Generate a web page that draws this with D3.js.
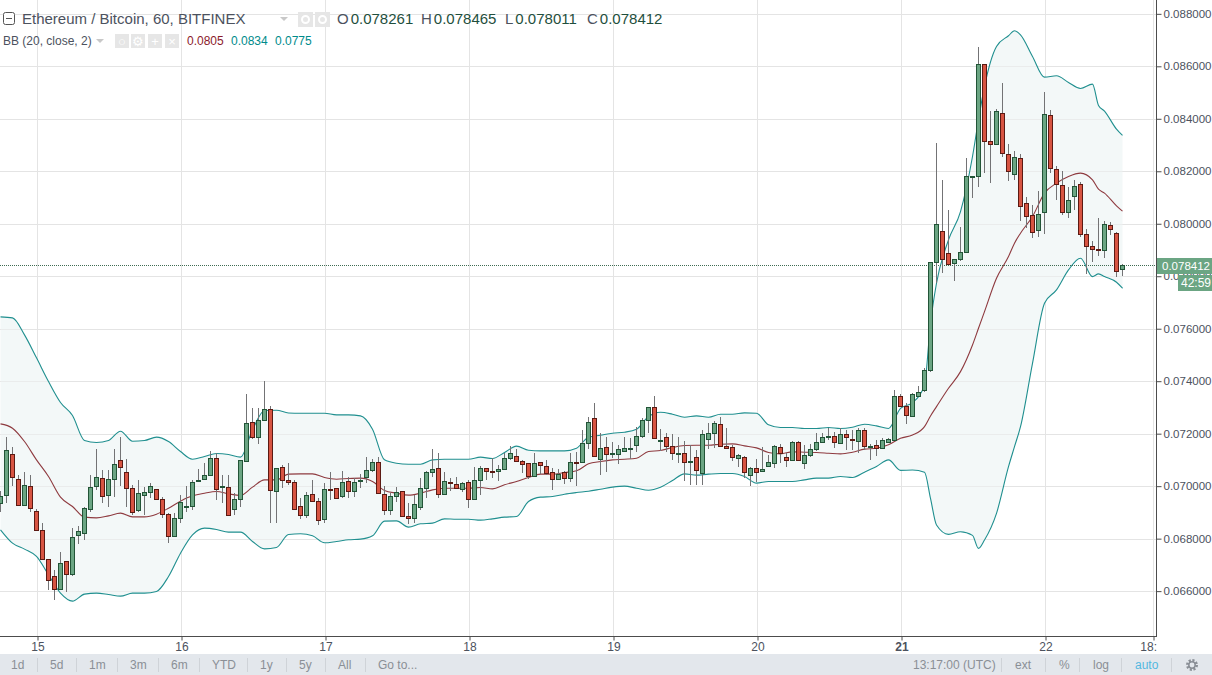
<!DOCTYPE html>
<html>
<head>
<meta charset="utf-8">
<script src="https://cdn.jsdelivr.net/npm/d3@7"></script>
<style>
  html, body { margin: 0; padding: 0; background: #fff; overflow: hidden; }
  svg { display: block; font-family: "Liberation Sans", Arial, sans-serif; }
</style>
</head>
<body>
<svg width="1212" height="675"></svg>
<script>
// prices are in millionths of a BTC, one entry per hourly bar
const opens = [
  69352,69657,71219,70266,69276,70000,69047,68323,67218,66571,
  66075,67142,66634,68133,68209,69123,70000,70305,69657,70266,
  70990,70533,69923,69085,69682,69771,69885,69504,68933,68082,
  68780,69225,69238,70190,70266,70419,71066,69962,69962,69123,
  69504,70952,72438,71867,72514,72933,69809,70724,70228,70152,
  69238,68895,69695,69428,68742,69898,69923,69619,70190,69809,
  70190,70343,70609,70914,69695,69085,69619,69809,68857,68780,
  69200,69923,70533,70685,69695,70152,70076,69898,70152,69504,
  70228,70685,70571,70571,70647,71066,71143,70952,70876,70381,
  70914,70762,70533,70266,70533,70305,70927,70914,71638,72590,
  71028,71486,71219,71219,71333,71447,71562,71905,72514,73010,
  71714,71867,71524,71257,71257,70914,71105,70495,71790,72019,
  72362,71524,71486,71066,71105,70419,70685,70571,70762,70876,
  71486,71105,70990,71676,70876,71181,71409,71676,71867,71905,
  71638,71981,71790,71714,72133,71511,71562,71447,71701,71752,
  73429,73048,72687,73450,73653,74416,78534,79716,78877,78521,
  78649,78915,81801,81813,86084,83148,83021,84215,82652,81915,
  82500,80784,80326,79754,80441,84139,82080,81470,80441,81051,
  81508,79602,79144,79030,78992,79945,79640,78261];
const highs = [
  69797,71867,71498,70431,70533,70431,69123,68590,67218,66799,
  67485,67142,68400,68488,69225,70431,71422,70622,70622,71422,
  71892,71028,70050,70241,69987,70139,69885,69606,68971,68971,
  69670,70012,70216,70660,70876,71333,71257,70419,70419,69758,
  71003,73518,72971,72971,74026,73060,70685,70800,70876,70241,
  69555,69784,70241,69555,70114,70546,69923,70584,70355,70305,
  70457,71117,71041,71105,70012,69758,69962,69822,69352,69670,
  70317,70584,71422,71270,70546,70317,70355,70152,70241,70724,
  70774,70685,71066,70812,71282,71536,71422,71003,70876,71270,
  70914,71003,70685,70647,70571,71270,71308,72133,72629,73162,
  72019,71867,71689,71575,71867,71854,72260,72590,73010,73441,
  72184,72019,71981,71867,71727,71562,71371,72146,72425,72502,
  72629,72210,71575,71232,71155,70724,71028,71511,71193,71575,
  71600,71257,71740,71740,71562,71600,72019,72019,72235,72082,
  72210,72146,72146,72210,72235,71613,71765,71829,71829,73670,
  73505,73162,73551,73818,74492,78533,83084,81674,80530,78649,
  79881,82500,81826,86745,86084,84279,84368,85359,83033,82779,
  82652,81025,80720,81254,85029,84343,82195,82004,81394,81674,
  81585,79805,79348,80212,80123,80072,79691,78465];
const lows = [
  69034,69377,70012,69250,69250,69034,68323,67218,66050,65644,
  66050,65948,66558,67815,67955,69034,69835,69377,69225,69606,
  70012,69225,68908,69034,68920,69530,69479,68780,67853,68057,
  68615,69009,69098,70165,70241,70406,69454,69365,68895,68908,
  69187,70939,71790,71613,72514,68615,68615,69949,70038,69098,
  68742,68780,69403,68501,68590,69479,69504,69530,69568,69606,
  69936,70139,70558,69695,68920,68908,69415,68819,68565,68615,
  69073,69542,70355,69555,69670,69809,69885,69796,69149,69492,
  69670,70216,70305,70178,70622,71003,70914,70520,70266,70343,
  70457,70431,69860,70241,70101,70152,70025,70901,71409,71105,
  70431,70558,71079,70851,71320,71041,71308,71829,72044,71790,
  71346,71295,71003,70876,70178,70038,70038,70038,71409,71447,
  71511,71435,70940,70749,70305,70025,70165,70571,70724,70685,
  70876,70736,70977,70965,70673,71105,71346,71676,71765,71447,
  71613,71384,71384,71257,71384,71003,71155,71435,71701,71727,
  73010,72362,72649,73386,73602,74340,77733,78140,78483,77835,
  78598,78915,80975,81419,81953,81546,83021,82563,81648,81686,
  80123,79856,79475,79513,79602,81953,80911,80326,80237,80530,
  79487,78077,78560,78788,78699,79564,77988,78011];
const closes = [
  69631,71371,70368,69276,70038,69161,68323,67218,66418,66075,
  67066,66634,68057,68285,69161,69962,70343,69644,70266,70838,
  70724,69923,69009,69733,69771,70000,69504,68933,68095,68780,
  69390,69238,70152,70228,70419,71066,69885,70000,68920,69504,
  70990,72400,71867,72514,72933,69847,70685,70228,70152,69123,
  68895,69657,69428,68704,69885,69873,69542,70152,69809,70165,
  70228,70609,70914,69733,69085,69619,69771,68857,68780,69314,
  69923,70533,70647,69695,70190,70114,69923,70114,69504,70228,
  70685,70571,70533,70647,71066,71257,70952,70838,70381,70876,
  70800,70495,70266,70457,70305,70914,70901,71638,72438,71143,
  71447,71219,71257,71409,71447,71460,71905,72514,73010,71829,
  71752,71524,71257,71270,70914,70952,70609,71981,72019,72400,
  71524,71473,71105,71181,70533,70685,70533,70647,70914,71524,
  71257,70990,71676,70990,71181,71409,71676,71867,71905,71676,
  71981,71867,71765,72133,71524,71524,71447,71752,71790,73429,
  73048,72705,73501,73577,74416,78533,79996,78649,78483,78649,
  78915,81813,81826,86084,83148,83021,84292,82690,82004,82538,
  80669,80288,79678,80364,84177,82118,81508,80441,80898,81432,
  79602,79144,79030,78992,79983,79792,78191,78412];

// bollinger bands, read at these bars only
const bbBars = [
  0,2,4,6,8,10,12,14,16,18,
  20,22,24,26,28,30,32,34,36,38,
  40,42,44,46,48,50,52,54,56,58,
  60,62,64,66,68,70,72,74,76,78,
  80,82,84,86,88,90,92,94,96,98,
  100,102,104,106,108,110,112,114,116,118,
  120,122,124,126,128,130,132,134,136,138,
  140,142,144,146,148,150,152,154,155,156,
  158,160,162,163,164,166,168,169,170,172,
  174,176,178,180,182,183,184,186,187];
const bbUpper = [
  76451,76413,75765,74889,73987,73187,72692,71740,71663,71740,
  72095,71714,71740,71867,71700,71320,71028,71130,71244,71206,
  71105,72146,72883,72895,72790,72781,72781,72781,72717,72717,
  72679,72171,71003,70876,70838,70838,71003,71028,71028,71028,
  71105,71054,71282,71524,71371,71346,71346,71346,71447,71867,
  71943,72019,72057,72171,72654,72819,72743,72629,72679,72629,
  72743,72743,72794,72781,72336,72235,72235,72197,72197,72235,
  72197,72248,72362,72298,72197,72967,73183,73856,76208,77733,
  79386,80466,82563,83961,85232,86758,87164,87355,87202,86376,
  85588,85639,85385,85156,85321,84508,84292,83605,83364];
const bbMiddle = [
  72375,72209,71701,71003,70368,69581,69225,68819,68793,68869,
  68971,68831,68831,68933,69161,69428,69631,69733,69797,69708,
  69644,69962,70241,70241,70457,70470,70470,70330,70266,70292,
  70305,70178,69835,69733,69657,69733,69860,69923,69923,69923,
  69949,69898,70051,70178,70330,70457,70457,70520,70584,70851,
  70940,71003,71028,71066,71321,71359,71473,71549,71562,71562,
  71600,71613,71536,71460,71282,71232,71308,71295,71282,71257,
  71232,71295,71410,71447,71575,71823,71950,72268,72674,73030,
  73729,74365,75382,76017,76653,77924,78750,79259,79640,80276,
  81165,81547,81801,81928,81673,81318,81165,80682,80479];
const bbLower = [
  68336,67828,67600,67320,66621,65923,65618,65885,65923,65872,
  65809,65923,65923,65987,66558,67447,68145,68400,68349,68247,
  68247,67891,67612,67663,68158,68184,68107,67841,67891,67955,
  67980,68107,68666,68679,68438,68565,68590,68755,68742,68742,
  68704,68755,68819,68844,69415,69581,69606,69695,69758,69809,
  69885,69962,70000,69923,69847,69962,70216,70470,70419,70457,
  70482,70482,70368,70114,70178,70178,70178,70241,70305,70305,
  70368,70330,70533,70749,71003,70603,70615,70526,69535,68518,
  68162,68264,68124,67628,67946,68963,70742,71505,72268,74683,
  76970,77479,78241,78686,77987,78089,77987,77771,77542];

const priceTicks = [66000,68000,70000,72000,74000,76000,78000,80000,82000,84000,86000,88000];
const dayBars = [6,30,54,78,102,126,150,174,192];
const dayLabels = ["15","16","17","18","19","20","21","22","18:00"];
const lastPrice = 78412;
const lastPriceLabel = "0.078412";
const countdown = "42:59";

const legendOhlc = [["O","0.078261"],["H","0.078465"],["L","0.078011"],["C","0.078412"]];
const legendBb = ["0.0805","0.0834","0.0775"];
const rangeLabels = ["1d","5d","1m","3m","6m","YTD","1y","5y","All","Go to..."];
const optionLabels = ["ext","%","log","auto"];

const paneW = 1156, paneH = 636;
const upColor = "#6ba583", upBorder = "#225437";
const downColor = "#d75442", downBorder = "#5b1a13";
const wickColor = "#737375";
const gridColor = "#e4e4e4", axisColor = "#4c4c4c", textColor = "#4c525e";

const svg = d3.select("svg");
const x = d3.scaleLinear().domain([0, 192]).range([0.5, 1152.5]);
const y = d3.scaleLinear().domain([88527, 64290]).range([0, paneH]);

svg.append("defs").append("clipPath").attr("id", "pane")
    .append("rect").attr("width", paneW).attr("height", paneH);

const pane = svg.append("g").attr("clip-path", "url(#pane)");

// grid
const grid = pane.append("g").attr("shape-rendering", "crispEdges").attr("stroke", gridColor);
grid.selectAll(".h").data(priceTicks).enter().append("line")
    .attr("x1", 0).attr("x2", paneW)
    .attr("y1", d => Math.round(y(d)) + 0.5).attr("y2", d => Math.round(y(d)) + 0.5);
grid.selectAll(".v").data(dayBars).enter().append("line")
    .attr("x1", d => x(d) + 1).attr("x2", d => x(d) + 1)
    .attr("y1", 0).attr("y2", paneH);

// bands
const bbPoints = bbBars.map((b, i) => ({ bar: b, upper: bbUpper[i], middle: bbMiddle[i], lower: bbLower[i] }));
pane.append("path").datum(bbPoints)
    .attr("fill", "#f3f8f8")
    .attr("d", d3.area().curve(d3.curveMonotoneX).x(d => x(d.bar)).y0(d => y(d.lower)).y1(d => y(d.upper)));
// grid shows faintly through the band fill
pane.append("g").attr("shape-rendering", "crispEdges").attr("stroke", gridColor).attr("stroke-opacity", 0.6)
    .selectAll("line").data(priceTicks).enter().append("line")
    .attr("x1", 0).attr("x2", paneW)
    .attr("y1", d => Math.round(y(d)) + 0.5).attr("y2", d => Math.round(y(d)) + 0.5);
const bandLine = key => d3.line().curve(d3.curveMonotoneX).x(d => x(d.bar)).y(d => y(d[key]));
[["upper", "#1f8f8f"], ["lower", "#1f8f8f"], ["middle", "#8e3a3f"]].forEach(([key, color]) => {
    pane.append("path").datum(bbPoints)
        .attr("fill", "none").attr("stroke", color).attr("stroke-width", 1.1)
        .attr("d", bandLine(key));
});

// last price line
pane.append("line")
    .attr("x1", 0).attr("x2", paneW)
    .attr("y1", Math.round(y(lastPrice)) + 0.5).attr("y2", Math.round(y(lastPrice)) + 0.5)
    .attr("stroke", "#3f6b52").attr("stroke-dasharray", "1,1")
    .attr("shape-rendering", "crispEdges");

// candles
const bars = d3.range(opens.length);
const candles = pane.append("g").attr("shape-rendering", "crispEdges");
candles.selectAll("line").data(bars).enter().append("line")
    .attr("x1", d => x(d)).attr("x2", d => x(d))
    .attr("y1", d => y(highs[d])).attr("y2", d => y(lows[d]))
    .attr("stroke", wickColor);
candles.selectAll("rect").data(bars).enter().append("rect")
    .attr("x", d => x(d) - 2).attr("width", 4)
    .attr("y", d => Math.round(y(Math.max(opens[d], closes[d]))) + 0.5)
    .attr("height", d => Math.max(1, Math.round(y(Math.min(opens[d], closes[d]))) - Math.round(y(Math.max(opens[d], closes[d])))))
    .attr("fill", d => closes[d] >= opens[d] ? upColor : downColor)
    .attr("stroke", d => closes[d] >= opens[d] ? upBorder : downBorder);

// price axis
const yAxis = svg.append("g")
    .attr("transform", `translate(${paneW + 0.5},0)`)
    .call(d3.axisRight(y).tickValues(priceTicks).tickSize(5).tickPadding(2).tickSizeOuter(0)
        .tickFormat(d => (d / 1e6).toFixed(6)));
yAxis.select(".domain").attr("stroke", axisColor).attr("d", `M0,0V${paneH + 1}`);
yAxis.selectAll("line").attr("stroke", axisColor);
yAxis.selectAll("text").attr("fill", textColor).style("font-size", "11.5px");

// time axis
const xAxis = svg.append("g")
    .attr("transform", `translate(1,${paneH + 0.5})`)
    .call(d3.axisBottom(x).tickValues(dayBars).tickSize(4).tickPadding(2).tickSizeOuter(0)
        .tickFormat((d, i) => dayLabels[i]));
xAxis.select(".domain").attr("stroke", axisColor).attr("d", `M-1,0H${paneW}`);
xAxis.selectAll("line").attr("stroke", axisColor);
xAxis.selectAll("text").attr("fill", textColor).style("font-size", "12px")
    .attr("font-weight", (d, i) => dayLabels[i] === "21" ? "bold" : null);
// the last time label runs into the price axis and is cut off there
xAxis.selectAll(".tick").filter((d, i) => i === dayBars.length - 1).select("text")
    .text("18:").attr("text-anchor", "end").attr("dx", 3);

// last price tag and countdown
svg.append("rect").attr("x", 1157).attr("y", 258).attr("width", 55).attr("height", 16).attr("fill", upColor);
svg.append("text").attr("x", 1162).attr("y", 270).attr("fill", "#fff").style("font-size", "11.5px").text(lastPriceLabel);
svg.append("rect").attr("x", 1178).attr("y", 275).attr("width", 34).attr("height", 16).attr("fill", upColor);
svg.append("text").attr("x", 1181).attr("y", 287).attr("fill", "#fff").style("font-size", "12px").text(countdown);

// bottom toolbar
svg.append("rect").attr("y", 654).attr("width", 1212).attr("height", 21).attr("fill", "#e3e7ec");
const rangeX = [11,50,89,130,171,212,260,299,338,378];
const rangeSep = [37,76,117,158,199,247,286,325,365];
svg.selectAll(".range").data(rangeLabels).enter().append("text")
    .attr("x", (d, i) => rangeX[i]).attr("y", 669)
    .attr("fill", "#8a8f96").style("font-size", "12px").text(d => d);
const optionX = [1015,1059,1093,1135];
svg.selectAll(".opt").data(optionLabels).enter().append("text")
    .attr("x", (d, i) => optionX[i]).attr("y", 669)
    .attr("fill", d => d === "auto" ? "#53b8e0" : "#8a8f96").style("font-size", "12px").text(d => d);
svg.append("text").attr("x", 913).attr("y", 669).attr("fill", "#8a8f96").style("font-size", "12px").text("13:17:00 (UTC)");
svg.selectAll(".sep").data(rangeSep.concat([1001,1045,1079,1121,1171])).enter().append("line")
    .attr("x1", d => d + 0.5).attr("x2", d => d + 0.5).attr("y1", 658).attr("y2", 672)
    .attr("stroke", "#cfd3d8");
svg.append("circle").attr("cx", 1192).attr("cy", 665).attr("r", 4.5)
    .attr("fill", "none").attr("stroke", "#8a8f96").attr("stroke-width", 3).attr("stroke-dasharray", "2,1.5");
svg.append("circle").attr("cx", 1192).attr("cy", 665).attr("r", 3.2)
    .attr("fill", "none").attr("stroke", "#8a8f96").attr("stroke-width", 1.5);

// legend
const legend = svg.append("g");
legend.append("rect").attr("x", 3.5).attr("y", 12.5).attr("width", 11).attr("height", 12).attr("rx", 2)
    .attr("fill", "#fff").attr("stroke", "#555");
legend.append("line").attr("x1", 6).attr("x2", 12).attr("y1", 18.5).attr("y2", 18.5).attr("stroke", "#555");
legend.append("text").attr("x", 22).attr("y", 24).attr("fill", textColor)
    .style("font-size", "15px").text("Ethereum / Bitcoin, 60, BITFINEX");
const caret = (cx, cy) => legend.append("path")
    .attr("d", `M${cx - 4},${cy}h8l-4,4z`).attr("fill", "#c8c8c8");
caret(284, 17);
const icon = (ix, iy, s) => legend.append("rect").attr("x", ix).attr("y", iy).attr("width", s).attr("height", s).attr("fill", "#e6e6e6");
[298, 315].forEach(ix => {
    icon(ix, 12, 15);
    legend.append("circle").attr("cx", ix + 7.5).attr("cy", 19.5).attr("r", 3.5).attr("fill", "none").attr("stroke", "#fff").attr("stroke-width", 2);
});
const ohlcX = [337,421,505,587];
legendOhlc.forEach(([label, value], i) => {
    const t = legend.append("text").attr("x", ohlcX[i]).attr("y", 24).style("font-size", "15px");
    t.append("tspan").attr("fill", textColor).text(label);
    t.append("tspan").attr("dx", 2).attr("fill", "#1f4f3d").text(value);
});
legend.append("text").attr("x", 3).attr("y", 45).attr("fill", textColor)
    .style("font-size", "12px").text("BB (20, close, 2)");
caret(100, 39);
[115,131,148,165].forEach(ix => icon(ix, 34, 14));
[[122,"\u25CB"],[138,"\u2699"],[155,"+"],[172,"\u00D7"]].forEach(([ix, glyph]) => {
    legend.append("text").attr("x", ix).attr("y", 45.5).attr("text-anchor", "middle")
        .attr("fill", "#fff").style("font-size", "13px").text(glyph);
});
const bbValueX = [187,231,275];
const bbValueColor = ["#8b1a2b","#008b8b","#008b8b"];
legend.selectAll(".bbv").data(legendBb).enter().append("text")
    .attr("x", (d, i) => bbValueX[i]).attr("y", 45)
    .attr("fill", (d, i) => bbValueColor[i]).style("font-size", "12px").text(d => d);
</script>
</body>
</html>
